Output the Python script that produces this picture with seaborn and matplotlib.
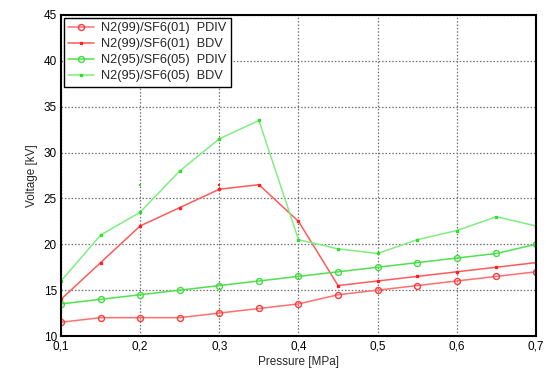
import matplotlib
matplotlib.use("Agg")
import matplotlib.pyplot as plt
import seaborn as sns
import pandas as pd

pressure = [0.1, 0.15, 0.2, 0.25, 0.3, 0.35, 0.4, 0.45, 0.5, 0.55, 0.6, 0.65, 0.7]
red_pdiv = [11.5, 12, 12, 12, 12.5, 13, 13.5, 14.5, 15, 15.5, 16, 16.5, 17]
red_bdv = [14, 18, 22, 24, 26, 26.5, 22.5, 15.5, 16, 16.5, 17, 17.5, 18]
green_pdiv = [13.5, 14, 14.5, 15, 15.5, 16, 16.5, 17, 17.5, 18, 18.5, 19, 20]
green_bdv = [16, 21, 23.5, 28, 31.5, 33.5, 20.5, 19.5, 19, 20.5, 21.5, 23, 22]

# stray isolated markers visible in the picture
stray_red_x = [0.3]
stray_red_y = [26.5]
stray_green_x = [0.1, 0.2]
stray_green_y = [16.5, 26.5]

labels = ["N2(99)/SF6(01)  PDIV", "N2(99)/SF6(01)  BDV",
          "N2(95)/SF6(05)  PDIV", "N2(95)/SF6(05)  BDV"]
xticks = [0.1, 0.2, 0.3, 0.4, 0.5, 0.6, 0.7]
xticklabels = ["0,1", "0,2", "0,3", "0,4", "0,5", "0,6", "0,7"]
yticks = [10, 15, 20, 25, 30, 35, 40, 45]

sns.set_style("white")
plt.rcParams['font.family'] = ['Liberation Sans', 'DejaVu Sans']

fig = plt.figure(figsize=(5.46, 3.71), dpi=100)
ax = fig.add_axes([0.1117, 0.0943, 0.8700, 0.8653])

series = [
    (red_pdiv, labels[0], "#ff7070", "#ff3a3a", "o", 4.3, "none"),
    (red_bdv, labels[1], "#ff5a5a", "#ff2020", "s", 1.6, None),
    (green_pdiv, labels[2], "#50e050", "#40dd40", "o", 4.3, "none"),
    (green_bdv, labels[3], "#80ee80", "#30dd30", "s", 1.6, None),
]
for vals, lab, lc, mc, mk, ms, mfc in series:
    df = pd.DataFrame({"p": pressure, "v": vals})
    kw = dict(marker=mk, markersize=ms, markeredgecolor=mc, markeredgewidth=1.0)
    kw["markerfacecolor"] = mfc if mfc is not None else mc
    sns.lineplot(data=df, x="p", y="v", ax=ax, color=lc, linewidth=1.1,
                 label=lab, **kw)

sns.scatterplot(x=stray_red_x, y=stray_red_y, ax=ax, color="#ff2020", marker="s",
                s=4, linewidth=0, legend=False)
sns.scatterplot(x=stray_green_x, y=stray_green_y, ax=ax, color="#30dd30", marker="s",
                s=4, linewidth=0, legend=False)

ax.set_xlim(0.1, 0.7)
ax.set_ylim(10, 45)
ax.set_xticks(xticks)
ax.set_xticklabels(xticklabels)
ax.set_yticks(yticks)
ax.tick_params(axis="both", labelsize=8.5, length=0, pad=3, colors="black")
ax.grid(True, linestyle=(0, (1.2, 1.5)), color="#707070", linewidth=0.9)
for sp in ax.spines.values():
    sp.set_color("black")
    sp.set_linewidth(1.5)
ax.set_xlabel("Pressure [MPa]", fontsize=8.5, labelpad=3)
ax.set_ylabel("Voltage [kV]", fontsize=8.5, labelpad=4)

leg = ax.legend(loc="upper left", fontsize=9.2, frameon=True, fancybox=False,
                edgecolor="black", framealpha=1, borderaxespad=0.2,
                handlelength=2.0, handletextpad=0.6, labelspacing=0.32,
                borderpad=0.35)
leg.get_frame().set_linewidth(1.0)

fig.savefig("out.png", dpi=100, facecolor="white")
